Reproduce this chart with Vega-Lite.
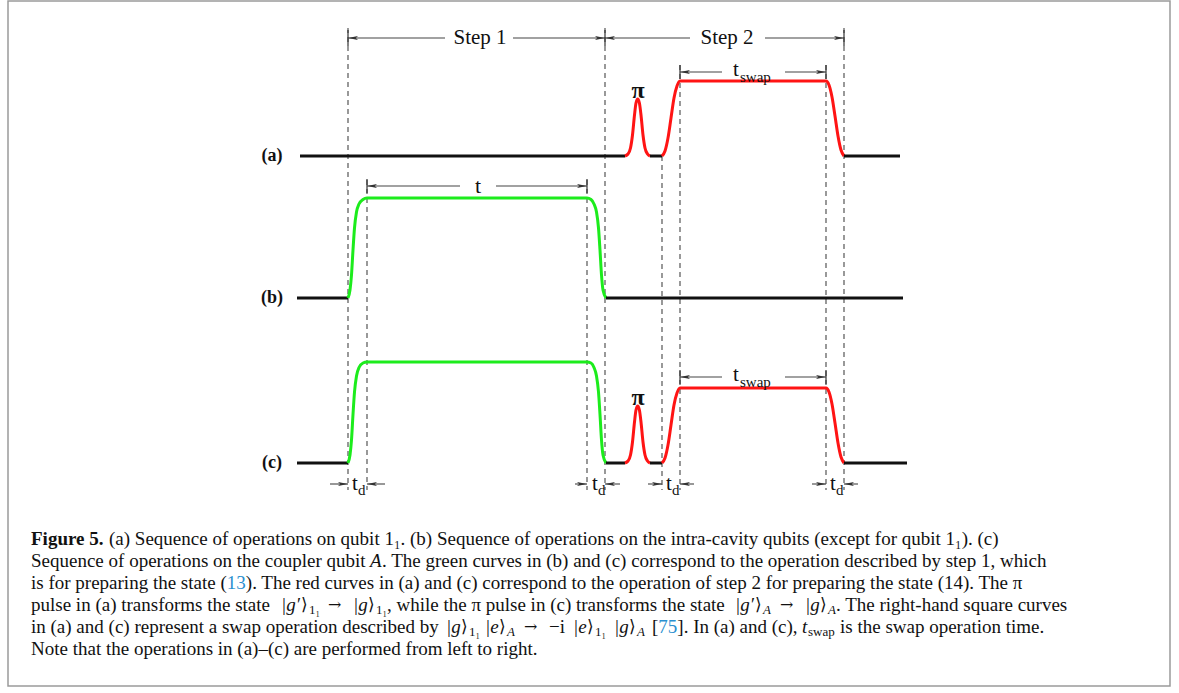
{
"$schema": "https://vega.github.io/schema/vega-lite/v6.json",
"width": 1179, "height": 693, "padding": 0,
"autosize": {"type": "fit", "contains": "padding"},
"background": "white",
"config": {"view": {"stroke": null}},
"datasets": {
"frame": [{"x": 8, "x2": 1170, "y": 1, "y2": 686}],
"curves": [
{"s":"a1","c":"k","x":300,"y":156},{"s":"a1","c":"k","x":625,"y":156},
{"s":"a2","c":"r","x":625,"y":156},{"s":"a2","c":"r","x":628,"y":154},{"s":"a2","c":"r","x":630.5,"y":148},{"s":"a2","c":"r","x":632.5,"y":135},{"s":"a2","c":"r","x":634.5,"y":115},{"s":"a2","c":"r","x":636,"y":103},{"s":"a2","c":"r","x":637.7,"y":99},{"s":"a2","c":"r","x":639.4,"y":103},{"s":"a2","c":"r","x":641,"y":115},{"s":"a2","c":"r","x":643,"y":135},{"s":"a2","c":"r","x":645,"y":148},{"s":"a2","c":"r","x":647.5,"y":154},{"s":"a2","c":"r","x":650,"y":156},
{"s":"a3","c":"k","x":650,"y":156},{"s":"a3","c":"k","x":662,"y":156},
{"s":"a4","c":"r","x":662,"y":156},{"s":"a4","c":"r","x":665,"y":151},{"s":"a4","c":"r","x":668,"y":138},{"s":"a4","c":"r","x":671,"y":118},{"s":"a4","c":"r","x":674,"y":98},{"s":"a4","c":"r","x":677,"y":86},{"s":"a4","c":"r","x":680,"y":81},{"s":"a4","c":"r","x":826,"y":81},{"s":"a4","c":"r","x":829,"y":85},{"s":"a4","c":"r","x":832,"y":97},{"s":"a4","c":"r","x":835,"y":116},{"s":"a4","c":"r","x":838,"y":136},{"s":"a4","c":"r","x":841,"y":150},{"s":"a4","c":"r","x":844,"y":156},
{"s":"a5","c":"k","x":844,"y":156},{"s":"a5","c":"k","x":900,"y":156},
{"s":"b1","c":"k","x":297,"y":298},{"s":"b1","c":"k","x":348,"y":298},
{"s":"b2","c":"g","x":348,"y":298},{"s":"b2","c":"g","x":350,"y":290},{"s":"b2","c":"g","x":351.5,"y":275},{"s":"b2","c":"g","x":353,"y":250},{"s":"b2","c":"g","x":354.5,"y":228},{"s":"b2","c":"g","x":356.5,"y":212},{"s":"b2","c":"g","x":359,"y":204},{"s":"b2","c":"g","x":363,"y":199.5},{"s":"b2","c":"g","x":367,"y":198},{"s":"b2","c":"g","x":587,"y":198},{"s":"b2","c":"g","x":591,"y":199.5},{"s":"b2","c":"g","x":594,"y":204},{"s":"b2","c":"g","x":596.5,"y":212},{"s":"b2","c":"g","x":598.5,"y":228},{"s":"b2","c":"g","x":600,"y":250},{"s":"b2","c":"g","x":601.5,"y":275},{"s":"b2","c":"g","x":603,"y":290},{"s":"b2","c":"g","x":606,"y":298},
{"s":"b3","c":"k","x":606,"y":298},{"s":"b3","c":"k","x":903,"y":298},
{"s":"c1","c":"k","x":297,"y":463},{"s":"c1","c":"k","x":348,"y":463},
{"s":"c2","c":"g","x":348,"y":463},{"s":"c2","c":"g","x":350,"y":455},{"s":"c2","c":"g","x":351.5,"y":440},{"s":"c2","c":"g","x":353,"y":414.5},{"s":"c2","c":"g","x":354.5,"y":392},{"s":"c2","c":"g","x":356.5,"y":376},{"s":"c2","c":"g","x":359,"y":367.5},{"s":"c2","c":"g","x":363,"y":363},{"s":"c2","c":"g","x":367,"y":362},{"s":"c2","c":"g","x":587,"y":362},{"s":"c2","c":"g","x":591,"y":363},{"s":"c2","c":"g","x":594,"y":367.5},{"s":"c2","c":"g","x":596.5,"y":376},{"s":"c2","c":"g","x":598.5,"y":392},{"s":"c2","c":"g","x":600,"y":414.5},{"s":"c2","c":"g","x":601.5,"y":440},{"s":"c2","c":"g","x":603,"y":455},{"s":"c2","c":"g","x":606,"y":463},
{"s":"c3","c":"k","x":606,"y":463},{"s":"c3","c":"k","x":625,"y":463},
{"s":"c4","c":"r","x":625,"y":463},{"s":"c4","c":"r","x":628,"y":461},{"s":"c4","c":"r","x":630.5,"y":455},{"s":"c4","c":"r","x":632.5,"y":442},{"s":"c4","c":"r","x":634.5,"y":422},{"s":"c4","c":"r","x":636,"y":410},{"s":"c4","c":"r","x":637.7,"y":406},{"s":"c4","c":"r","x":639.4,"y":410},{"s":"c4","c":"r","x":641,"y":422},{"s":"c4","c":"r","x":643,"y":442},{"s":"c4","c":"r","x":645,"y":455},{"s":"c4","c":"r","x":647.5,"y":461},{"s":"c4","c":"r","x":650,"y":463},
{"s":"c5","c":"k","x":650,"y":463},{"s":"c5","c":"k","x":662,"y":463},
{"s":"c6","c":"r","x":662,"y":463},{"s":"c6","c":"r","x":665,"y":458},{"s":"c6","c":"r","x":668,"y":445},{"s":"c6","c":"r","x":671,"y":425},{"s":"c6","c":"r","x":674,"y":405},{"s":"c6","c":"r","x":677,"y":393},{"s":"c6","c":"r","x":680,"y":388},{"s":"c6","c":"r","x":826,"y":388},{"s":"c6","c":"r","x":829,"y":392},{"s":"c6","c":"r","x":832,"y":404},{"s":"c6","c":"r","x":835,"y":423},{"s":"c6","c":"r","x":838,"y":443},{"s":"c6","c":"r","x":841,"y":457},{"s":"c6","c":"r","x":844,"y":463},
{"s":"c7","c":"k","x":844,"y":463},{"s":"c7","c":"k","x":907,"y":463}
],
"dashes": [
{"x":348,"y":28,"y2":490},{"x":367,"y":180,"y2":490},{"x":587,"y":180,"y2":490},{"x":605,"y":28,"y2":490},
{"x":662,"y":156,"y2":490},{"x":680,"y":65,"y2":490},{"x":826,"y":65,"y2":490},{"x":844,"y":28,"y2":490}
],
"ticks": [
{"x":348,"y":30,"y2":46},{"x":605,"y":30,"y2":46},{"x":844,"y":30,"y2":46},
{"x":367,"y":179,"y2":193},{"x":587,"y":179,"y2":193},
{"x":680,"y":65,"y2":79},{"x":826,"y":65,"y2":79},{"x":680,"y":370,"y2":384},{"x":826,"y":370,"y2":384}
],
"shafts": [
{"x":348,"x2":445,"y":38},{"x":513,"x2":605,"y":38},{"x":605,"x2":690,"y":38},{"x":765,"x2":844,"y":38},
{"x":367,"x2":460,"y":186},{"x":496,"x2":587,"y":186},
{"x":680,"x2":722,"y":72},{"x":785,"x2":826,"y":72},
{"x":680,"x2":722,"y":377},{"x":785,"x2":826,"y":377},
{"x":330,"x2":348,"y":484},{"x":367,"x2":385,"y":484},{"x":575,"x2":587,"y":484},{"x":605,"x2":620,"y":484},
{"x":648,"x2":662,"y":484},{"x":680,"x2":694,"y":484},{"x":812,"x2":826,"y":484},{"x":844,"x2":858,"y":484}
],
"heads": [
{"d":"L","x":348,"y":38},{"d":"L","x":605,"y":38},{"d":"L","x":367,"y":186},{"d":"L","x":680,"y":72},{"d":"L","x":680,"y":377},
{"d":"L","x":367,"y":484},{"d":"L","x":605,"y":484},{"d":"L","x":680,"y":484},{"d":"L","x":844,"y":484},
{"d":"R","x":605,"y":38},{"d":"R","x":844,"y":38},{"d":"R","x":587,"y":186},{"d":"R","x":826,"y":72},{"d":"R","x":826,"y":377},
{"d":"R","x":348,"y":484},{"d":"R","x":587,"y":484},{"d":"R","x":662,"y":484},{"d":"R","x":826,"y":484}
],
"texts": [
{"r":"panel","x":272,"y":156,"t":"(a)"},{"r":"panel","x":272,"y":298,"t":"(b)"},{"r":"panel","x":272,"y":463,"t":"(c)"},
{"r":"step","x":480,"y":38,"t":"Step 1"},{"r":"step","x":727,"y":38,"t":"Step 2"},
{"r":"big","x":478,"y":186,"t":"t"},
{"r":"pi","x":638,"y":91,"t":"π"},{"r":"pi","x":638,"y":398,"t":"π"},
{"r":"tl","x":733,"y":70,"t":"t"},{"r":"tl","x":733,"y":375,"t":"t"},
{"r":"tl","x":352,"y":484,"t":"t"},{"r":"tl","x":592,"y":484,"t":"t"},{"r":"tl","x":666,"y":484,"t":"t"},{"r":"tl","x":830,"y":484,"t":"t"},
{"r":"ts","x":740,"y":77,"t":"swap"},{"r":"ts","x":740,"y":382,"t":"swap"},
{"r":"ts","x":358,"y":490,"t":"d"},{"r":"ts","x":598,"y":490,"t":"d"},{"r":"ts","x":672,"y":490,"t":"d"},{"r":"ts","x":836,"y":490,"t":"d"},
{"r":"capb","x":31,"y":539,"t":"Figure 5."},
{"r":"cap","x":109,"y":539,"t":"(a) Sequence of operations on qubit 1₁. (b) Sequence of operations on the intra-cavity qubits (except for qubit 1₁). (c)"},
{"r":"cap","x":31,"y":561,"t":"Sequence of operations on the coupler qubit"},
{"r":"capi","x":370,"y":561,"t":"A"},
{"r":"cap","x":382,"y":561,"t":". The green curves in (b) and (c) correspond to the operation described by step 1, which"},
{"r":"cap","x":31,"y":583,"t":"is for preparing the state ("},
{"r":"capl","x":226.8,"y":583,"t":"13"},
{"r":"cap","x":245.8,"y":583,"t":"). The red curves in (a) and (c) correspond to the operation of step 2 for preparing the state (14). The π"},
{"r":"cap","x":31,"y":605,"t":"pulse in (a) transforms the state"},
{"r":"capi","x":281,"y":605,"t":"|g′"},
{"r":"ang","x":301,"y":605,"t":"⟩"},
{"r":"caps","x":309,"y":610,"t":"1₁"},
{"r":"arr","x":328,"y":605,"t":"→"},
{"r":"capi","x":353,"y":605,"t":"|g"},
{"r":"ang","x":368,"y":605,"t":"⟩"},
{"r":"caps","x":376,"y":610,"t":"1₁"},
{"r":"cap","x":387,"y":605,"t":", while the π pulse in (c) transforms the state"},
{"r":"capi","x":735,"y":605,"t":"|g′"},
{"r":"ang","x":755,"y":605,"t":"⟩"},
{"r":"capsi","x":763,"y":610,"t":"A"},
{"r":"arr","x":780,"y":605,"t":"→"},
{"r":"capi","x":805,"y":605,"t":"|g"},
{"r":"ang","x":820,"y":605,"t":"⟩"},
{"r":"capsi","x":828,"y":610,"t":"A"},
{"r":"cap","x":836,"y":605,"t":". The right-hand square curves"},
{"r":"cap","x":31,"y":627,"t":"in (a) and (c) represent a swap operation described by"},
{"r":"capi","x":446,"y":627,"t":"|g"},
{"r":"ang","x":461,"y":627,"t":"⟩"},
{"r":"caps","x":469,"y":632,"t":"1₁"},
{"r":"capi","x":485,"y":627,"t":"|e"},
{"r":"ang","x":499,"y":627,"t":"⟩"},
{"r":"capsi","x":507,"y":632,"t":"A"},
{"r":"arr","x":524,"y":627,"t":"→"},
{"r":"cap","x":549,"y":627,"t":"−i"},
{"r":"capi","x":573,"y":627,"t":"|e"},
{"r":"ang","x":587,"y":627,"t":"⟩"},
{"r":"caps","x":595,"y":632,"t":"1₁"},
{"r":"capi","x":614,"y":627,"t":"|g"},
{"r":"ang","x":629,"y":627,"t":"⟩"},
{"r":"capsi","x":637,"y":632,"t":"A"},
{"r":"cap","x":652,"y":627,"t":"["},
{"r":"capl","x":658.3,"y":627,"t":"75"},
{"r":"cap","x":677.3,"y":627,"t":"]. In (a) and (c),"},
{"r":"capi","x":802,"y":627,"t":"t"},
{"r":"caps","x":808,"y":632,"t":"swap"},
{"r":"cap","x":840,"y":627,"t":"is the swap operation time."},
{"r":"cap","x":31,"y":649,"t":"Note that the operations in (a)–(c) are performed from left to right."}
]
},
"layer": [
{"data": {"name": "frame"}, "mark": {"type": "rect", "filled": false, "stroke": "#9a9a9a", "strokeWidth": 1.5},
 "encoding": {"x": {"field": "x", "type": "quantitative", "scale": {"domain": [0, 1179], "nice": false, "zero": false}, "axis": null}, "x2": {"field": "x2"},
  "y": {"field": "y", "type": "quantitative", "scale": {"domain": [0, 693], "nice": false, "zero": false, "reverse": true}, "axis": null}, "y2": {"field": "y2"}}},
{"data": {"name": "dashes"}, "mark": {"type": "rule", "stroke": "#555555", "strokeWidth": 1.2, "strokeDash": [5, 4]},
 "encoding": {"x": {"field": "x", "type": "quantitative", "scale": {"domain": [0, 1179], "nice": false, "zero": false}, "axis": null},
  "y": {"field": "y", "type": "quantitative", "scale": {"domain": [0, 693], "nice": false, "zero": false, "reverse": true}, "axis": null}, "y2": {"field": "y2"}}},
{"data": {"name": "ticks"}, "mark": {"type": "rule", "stroke": "#333333", "strokeWidth": 1.2},
 "encoding": {"x": {"field": "x", "type": "quantitative", "scale": {"domain": [0, 1179], "nice": false, "zero": false}, "axis": null},
  "y": {"field": "y", "type": "quantitative", "scale": {"domain": [0, 693], "nice": false, "zero": false, "reverse": true}, "axis": null}, "y2": {"field": "y2"}}},
{"data": {"name": "shafts"}, "mark": {"type": "rule", "stroke": "#444444", "strokeWidth": 1.1},
 "encoding": {"x": {"field": "x", "type": "quantitative", "scale": {"domain": [0, 1179], "nice": false, "zero": false}, "axis": null}, "x2": {"field": "x2"},
  "y": {"field": "y", "type": "quantitative", "scale": {"domain": [0, 693], "nice": false, "zero": false, "reverse": true}, "axis": null}}},
{"data": {"name": "heads"}, "transform": [{"filter": "datum.d === 'L'"}],
 "mark": {"type": "point", "shape": "M -1 0 L 1 -0.38 L 0.55 0 L 1 0.38 Z", "filled": true, "size": 100, "color": "#333333", "opacity": 1, "xOffset": 5},
 "encoding": {"x": {"field": "x", "type": "quantitative", "scale": {"domain": [0, 1179], "nice": false, "zero": false}, "axis": null},
  "y": {"field": "y", "type": "quantitative", "scale": {"domain": [0, 693], "nice": false, "zero": false, "reverse": true}, "axis": null}}},
{"data": {"name": "heads"}, "transform": [{"filter": "datum.d === 'R'"}],
 "mark": {"type": "point", "shape": "M 1 0 L -1 -0.38 L -0.55 0 L -1 0.38 Z", "filled": true, "size": 100, "color": "#333333", "opacity": 1, "xOffset": -5},
 "encoding": {"x": {"field": "x", "type": "quantitative", "scale": {"domain": [0, 1179], "nice": false, "zero": false}, "axis": null},
  "y": {"field": "y", "type": "quantitative", "scale": {"domain": [0, 693], "nice": false, "zero": false, "reverse": true}, "axis": null}}},
{"data": {"name": "curves"}, "mark": {"type": "line", "strokeWidth": 3, "interpolate": "monotone", "strokeCap": "butt", "strokeJoin": "round"},
 "encoding": {"x": {"field": "x", "type": "quantitative", "scale": {"domain": [0, 1179], "nice": false, "zero": false}, "axis": null},
  "y": {"field": "y", "type": "quantitative", "scale": {"domain": [0, 693], "nice": false, "zero": false, "reverse": true}, "axis": null},
  "detail": {"field": "s"},
  "color": {"field": "c", "type": "nominal", "scale": {"domain": ["k", "g", "r"], "range": ["#111111", "#1cec1c", "#ff1414"]}, "legend": null}}},
{"data": {"name": "texts"}, "transform": [{"filter": "datum.r === 'panel'"}],
 "mark": {"type": "text", "font": "Liberation Serif", "fontSize": 18, "fontWeight": "bold", "align": "center", "baseline": "middle", "color": "#111111"},
 "encoding": {"x": {"field": "x", "type": "quantitative", "scale": {"domain": [0, 1179], "nice": false, "zero": false}, "axis": null},
  "y": {"field": "y", "type": "quantitative", "scale": {"domain": [0, 693], "nice": false, "zero": false, "reverse": true}, "axis": null}, "text": {"field": "t"}}},
{"data": {"name": "texts"}, "transform": [{"filter": "datum.r === 'step'"}],
 "mark": {"type": "text", "font": "Liberation Serif", "fontSize": 21, "align": "center", "baseline": "middle", "color": "#111111"},
 "encoding": {"x": {"field": "x", "type": "quantitative", "scale": {"domain": [0, 1179], "nice": false, "zero": false}, "axis": null},
  "y": {"field": "y", "type": "quantitative", "scale": {"domain": [0, 693], "nice": false, "zero": false, "reverse": true}, "axis": null}, "text": {"field": "t"}}},
{"data": {"name": "texts"}, "transform": [{"filter": "datum.r === 'big'"}],
 "mark": {"type": "text", "font": "Liberation Serif", "fontSize": 22, "align": "center", "baseline": "middle", "color": "#111111"},
 "encoding": {"x": {"field": "x", "type": "quantitative", "scale": {"domain": [0, 1179], "nice": false, "zero": false}, "axis": null},
  "y": {"field": "y", "type": "quantitative", "scale": {"domain": [0, 693], "nice": false, "zero": false, "reverse": true}, "axis": null}, "text": {"field": "t"}}},
{"data": {"name": "texts"}, "transform": [{"filter": "datum.r === 'pi'"}],
 "mark": {"type": "text", "font": "Liberation Serif", "fontSize": 24, "fontWeight": "bold", "align": "center", "baseline": "middle", "color": "#111111"},
 "encoding": {"x": {"field": "x", "type": "quantitative", "scale": {"domain": [0, 1179], "nice": false, "zero": false}, "axis": null},
  "y": {"field": "y", "type": "quantitative", "scale": {"domain": [0, 693], "nice": false, "zero": false, "reverse": true}, "axis": null}, "text": {"field": "t"}}},
{"data": {"name": "texts"}, "transform": [{"filter": "datum.r === 'tl'"}],
 "mark": {"type": "text", "font": "Liberation Serif", "fontSize": 21, "align": "left", "baseline": "middle", "color": "#111111"},
 "encoding": {"x": {"field": "x", "type": "quantitative", "scale": {"domain": [0, 1179], "nice": false, "zero": false}, "axis": null},
  "y": {"field": "y", "type": "quantitative", "scale": {"domain": [0, 693], "nice": false, "zero": false, "reverse": true}, "axis": null}, "text": {"field": "t"}}},
{"data": {"name": "texts"}, "transform": [{"filter": "datum.r === 'ts'"}],
 "mark": {"type": "text", "font": "Liberation Serif", "fontSize": 15, "align": "left", "baseline": "middle", "color": "#111111"},
 "encoding": {"x": {"field": "x", "type": "quantitative", "scale": {"domain": [0, 1179], "nice": false, "zero": false}, "axis": null},
  "y": {"field": "y", "type": "quantitative", "scale": {"domain": [0, 693], "nice": false, "zero": false, "reverse": true}, "axis": null}, "text": {"field": "t"}}},
{"data": {"name": "texts"}, "transform": [{"filter": "datum.r === 'capb'"}],
 "mark": {"type": "text", "font": "Liberation Serif", "fontSize": 19, "fontWeight": "bold", "align": "left", "baseline": "middle", "color": "#111111"},
 "encoding": {"x": {"field": "x", "type": "quantitative", "scale": {"domain": [0, 1179], "nice": false, "zero": false}, "axis": null},
  "y": {"field": "y", "type": "quantitative", "scale": {"domain": [0, 693], "nice": false, "zero": false, "reverse": true}, "axis": null}, "text": {"field": "t"}}},
{"data": {"name": "texts"}, "transform": [{"filter": "datum.r === 'cap'"}],
 "mark": {"type": "text", "font": "Liberation Serif", "fontSize": 19, "align": "left", "baseline": "middle", "color": "#111111"},
 "encoding": {"x": {"field": "x", "type": "quantitative", "scale": {"domain": [0, 1179], "nice": false, "zero": false}, "axis": null},
  "y": {"field": "y", "type": "quantitative", "scale": {"domain": [0, 693], "nice": false, "zero": false, "reverse": true}, "axis": null}, "text": {"field": "t"}}},
{"data": {"name": "texts"}, "transform": [{"filter": "datum.r === 'arr'"}],
 "mark": {"type": "text", "font": "DejaVu Serif", "fontSize": 16, "align": "left", "baseline": "middle", "color": "#111111"},
 "encoding": {"x": {"field": "x", "type": "quantitative", "scale": {"domain": [0, 1179], "nice": false, "zero": false}, "axis": null},
  "y": {"field": "y", "type": "quantitative", "scale": {"domain": [0, 693], "nice": false, "zero": false, "reverse": true}, "axis": null}, "text": {"field": "t"}}},
{"data": {"name": "texts"}, "transform": [{"filter": "datum.r === 'ang'"}],
 "mark": {"type": "text", "font": "DejaVu Serif", "fontSize": 17, "align": "left", "baseline": "middle", "color": "#111111"},
 "encoding": {"x": {"field": "x", "type": "quantitative", "scale": {"domain": [0, 1179], "nice": false, "zero": false}, "axis": null},
  "y": {"field": "y", "type": "quantitative", "scale": {"domain": [0, 693], "nice": false, "zero": false, "reverse": true}, "axis": null}, "text": {"field": "t"}}},
{"data": {"name": "texts"}, "transform": [{"filter": "datum.r === 'capi'"}],
 "mark": {"type": "text", "font": "Liberation Serif", "fontSize": 19, "fontStyle": "italic", "align": "left", "baseline": "middle", "color": "#111111"},
 "encoding": {"x": {"field": "x", "type": "quantitative", "scale": {"domain": [0, 1179], "nice": false, "zero": false}, "axis": null},
  "y": {"field": "y", "type": "quantitative", "scale": {"domain": [0, 693], "nice": false, "zero": false, "reverse": true}, "axis": null}, "text": {"field": "t"}}},
{"data": {"name": "texts"}, "transform": [{"filter": "datum.r === 'caps'"}],
 "mark": {"type": "text", "font": "Liberation Serif", "fontSize": 13, "align": "left", "baseline": "middle", "color": "#111111"},
 "encoding": {"x": {"field": "x", "type": "quantitative", "scale": {"domain": [0, 1179], "nice": false, "zero": false}, "axis": null},
  "y": {"field": "y", "type": "quantitative", "scale": {"domain": [0, 693], "nice": false, "zero": false, "reverse": true}, "axis": null}, "text": {"field": "t"}}},
{"data": {"name": "texts"}, "transform": [{"filter": "datum.r === 'capsi'"}],
 "mark": {"type": "text", "font": "Liberation Serif", "fontSize": 13, "fontStyle": "italic", "align": "left", "baseline": "middle", "color": "#111111"},
 "encoding": {"x": {"field": "x", "type": "quantitative", "scale": {"domain": [0, 1179], "nice": false, "zero": false}, "axis": null},
  "y": {"field": "y", "type": "quantitative", "scale": {"domain": [0, 693], "nice": false, "zero": false, "reverse": true}, "axis": null}, "text": {"field": "t"}}},
{"data": {"name": "texts"}, "transform": [{"filter": "datum.r === 'capl'"}],
 "mark": {"type": "text", "font": "Liberation Serif", "fontSize": 19, "align": "left", "baseline": "middle", "color": "#2a8fd0"},
 "encoding": {"x": {"field": "x", "type": "quantitative", "scale": {"domain": [0, 1179], "nice": false, "zero": false}, "axis": null},
  "y": {"field": "y", "type": "quantitative", "scale": {"domain": [0, 693], "nice": false, "zero": false, "reverse": true}, "axis": null}, "text": {"field": "t"}}}
]
}
